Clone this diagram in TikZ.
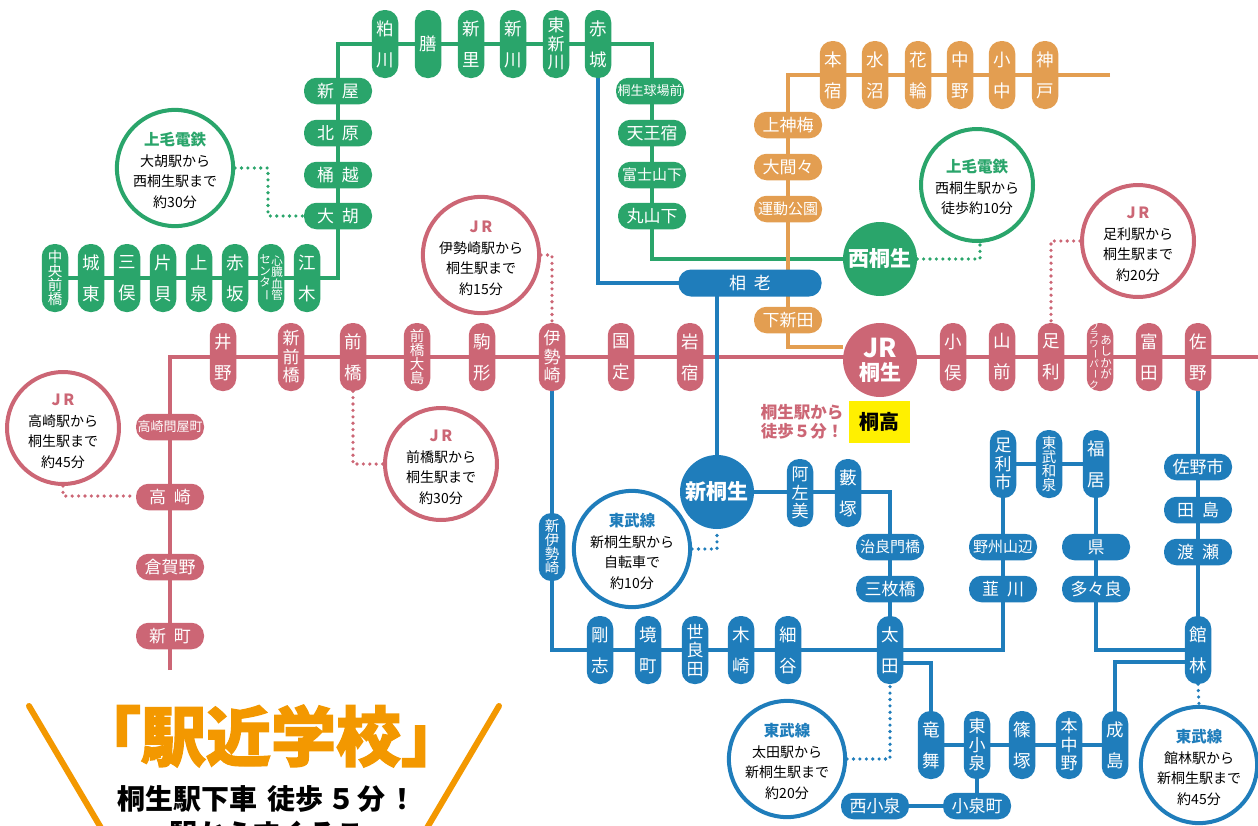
\documentclass[tikz,border=0pt]{standalone}
\usepackage{fontspec}
\usepackage{graphicx}
\usetikzlibrary{backgrounds}
\setmainfont{Noto Sans CJK JP}
\definecolor{jrred}{HTML}{CC6675}
\definecolor{jogreen}{HTML}{2AA56B}
\definecolor{tobublue}{HTML}{1F7DBB}
\definecolor{wtorange}{HTML}{E39E51}
\definecolor{ekiorange}{HTML}{F39800}
\definecolor{kiryuyellow}{HTML}{FFF000}
\tikzset{
  rail/.style={line width=4pt},
  pill/.style={fill=#1,text=white,inner sep=0pt,rounded corners=12.5pt,align=center},
  hst/.style={pill=#1,minimum width=68pt,minimum height=26.5pt,font=\fontsize{17}{18}\selectfont},
  hstq/.style={hst=#1,font=\fontsize{15}{18}\selectfont},
  hstp/.style={hst=#1,font=\fontsize{13}{18}\selectfont},
  vst/.style={pill=#1,minimum width=26.5pt,minimum height=68pt,font=\fontsize{17.5}{31}\selectfont},
  vstc/.style={vst=#1,font=\fontsize{17}{18.5}\selectfont},
  vstd/.style={vst=#1,font=\fontsize{14.5}{14}\selectfont},
  col/.style={text=white,inner sep=0pt,align=center,font=\fontsize{#1}{#1}\selectfont},
  hub/.style={circle,fill=#1,text=white,minimum size=74pt,inner sep=0pt,align=center,font=\bfseries\fontsize{21}{24}\selectfont},
  info/.style={circle,draw=#1,line width=4pt,fill=white,minimum size=112pt,inner sep=0pt,align=center,font=\fontsize{14}{20.5}\selectfont},
  walk/.style={line width=3.6pt,dash pattern=on 0pt off 6.4pt,line cap=round},
}
\newcommand{\infohead}[2]{{\bfseries\fontsize{15.5}{22}\selectfont\textcolor{#1}{\rule{0pt}{18pt}#2}}}
\newcommand{\gp}{\hspace{8pt}}
\newcommand{\tatebo}{\rotatebox[origin=c]{-90}{ー}}
\begin{document}
\begin{tikzpicture}[x=1pt,y=-1pt]
  \useasboundingbox (0,0) rectangle (1258,825);
  % where the lines turn
  \coordinate (gtl) at (338,44);
  \coordinate (gbl) at (338,278);
  \coordinate (gtr) at (652,44);
  \coordinate (gbr) at (652,259);
  \coordinate (akb) at (598,283);
  \coordinate (otl) at (788,75);
  \coordinate (otr) at (1110,75);
  \coordinate (obl) at (788,347);
  \coordinate (rwl) at (170,357);
  \coordinate (rwr) at (1258,357);
  \coordinate (rbt) at (170,670);
  \coordinate (bsh) at (717,283);
  \coordinate (bsy) at (890,492);
  \coordinate (bis) at (552,650);
  \coordinate (bsr) at (1003,650);
  \coordinate (bfk) at (1096,650);
  \coordinate (btd) at (890,663);
  \coordinate (btr) at (931,663);
  \coordinate (btk) at (1115,662);
  \coordinate (btl) at (1198,662);

  % joumo line
  \foreach \nm/\px/\lab in {kasu/385/粕\\川,sato/471/新\\里,skaw/513/新\\川,akag/598/赤\\城}
    \node[vst=jogreen] (\nm) at (\px,44) {\lab};
  \node[vst=jogreen] (zen) at (428,44) {膳};
  \node[vstc=jogreen] (higa) at (556,44) {東\\新\\川};
  \foreach \nm/\py/\lab in {nya/91/新\gp 屋,kit/133/北\gp 原,oke/175/桶\gp 越,ogo/216/大\gp 胡}
    \node[hst=jogreen] (\nm) at (338,\py) {\lab};
  \node[hstp=jogreen] (kyu) at (650,91) {桐生球場前};
  \node[hst=jogreen] (ten) at (652,133) {天王宿};
  \node[hstq=jogreen] (fuj) at (652,175) {富士山下};
  \node[hst=jogreen] (mar) at (652,216) {丸山下};
  \foreach \nm/\px/\lab in {jot/91/城\\東,mit/127/三\\俣,kat/163/片\\貝,kam/199/上\\泉,aks/235/赤\\坂,eno/307/江\\木}
    \node[vst=jogreen] (\nm) at (\px,278) {\lab};
  \node[vstd=jogreen] (chu) at (55,278) {中\\央\\前\\橋};
  \node[vst=jogreen] (shz) at (271,278) {};
  \node[col=11.5] (shza) at (277,278) {心\\臓\\血\\管};
  \node[col=11.5] (shzb) at (265,278) {セ\\ン\\タ\\\tatebo};
  \node[hub=jogreen] (nkr) at (880,259) {西桐生};

  % watarase line
  \foreach \nm/\px/\lab in {hon/833/本\\宿,miz/875/水\\沼,han/918/花\\輪,nak/960/中\\野,kon/1002/小\\中,kob/1045/神\\戸}
    \node[vst=wtorange] (\nm) at (\px,75) {\lab};
  \node[hst=wtorange] (kmk) at (788,125) {上神梅};
  \node[hst=wtorange] (omm) at (788,167) {大間々};
  \node[hstq=wtorange] (und) at (788,209) {運動公園};
  \node[hst=wtorange] (shm) at (788,320) {下新田};

  % ryomo line
  \foreach \nm/\px/\lab in {ino/223/井\\野,mae/353/前\\橋,kom/482/駒\\形,kun/621/国\\定,iwa/690/岩\\宿,oma/953/小\\俣,yam/1002/山\\前,ash/1051/足\\利,tom/1149/富\\田,san/1198/佐\\野}
    \node[vst=jrred] (\nm) at (\px,357) {\lab};
  \node[vstc=jrred] (smb) at (291,357) {新\\前\\橋};
  \node[vstd=jrred] (moj) at (417,357) {前\\橋\\大\\島};
  \node[vstc=jrred] (ise) at (552,357) {伊\\勢\\崎};
  \node[vst=jrred] (flw) at (1100,357) {};
  \node[col=11.5] (flwa) at (1106,357) {あ\\し\\か\\が};
  \node[col=9.5,font=\fontsize{9.5}{8.8}\selectfont] (flwb) at (1094,356) {フ\\ラ\\ワ\\\tatebo\\パ\\\tatebo\\ク};
  \node[hstp=jrred] (ton) at (170,427) {高崎問屋町};
  \node[hst=jrred] (tak) at (170,497) {高\gp 崎};
  \node[hst=jrred] (kur) at (170,567) {倉賀野};
  \node[hst=jrred] (shn) at (170,636) {新\gp 町};
  \node[hub=jrred,font=\bfseries\fontsize{21}{23}\selectfont] (jrk) at (880,360) {{\fontsize{26}{26}\selectfont JR}\\桐生};

  % tobu line
  \node[hst=tobublue,minimum width=143pt,minimum height=27pt] (aio) at (750,283) {相\gp 老};
  \node[hub=tobublue] (skr) at (717,492) {新桐生};
  \node[vstc=tobublue] (aza) at (800,493) {阿\\左\\美};
  \node[vst=tobublue] (yab) at (848,493) {藪\\塚};
  \node[hstq=tobublue] (jir) at (890,547) {治良門橋};
  \node[hst=tobublue] (smi) at (890,589) {三枚橋};
  \node[vst=tobublue] (ota) at (890,650) {太\\田};
  \node[vstd=tobublue] (sis) at (552,547) {新\\伊\\勢\\崎};
  \node[vst=tobublue] (gou) at (600,650) {剛\\志};
  \node[vst=tobublue] (sak) at (648,650) {境\\町};
  \node[vstc=tobublue] (ser) at (695,650) {世\\良\\田};
  \node[vst=tobublue] (kiz) at (741,650) {木\\崎};
  \node[vst=tobublue] (hos) at (788,650) {細\\谷};
  \node[vstc=tobublue] (asi) at (1003,464) {足\\利\\市};
  \node[vstd=tobublue] (izu) at (1049,464) {東\\武\\和\\泉};
  \node[vst=tobublue] (fuk) at (1096,464) {福\\居};
  \node[hstq=tobublue] (yas) at (1003,547) {野州山辺};
  \node[hst=tobublue] (nir) at (1003,589) {韮\gp 川};
  \node[hst=tobublue] (ken) at (1096,547) {県};
  \node[hst=tobublue] (tad) at (1096,589) {多々良};
  \node[hst=tobublue] (sno) at (1198,467) {佐野市};
  \node[hst=tobublue] (taj) at (1198,510) {田\gp 島};
  \node[hst=tobublue] (wat) at (1198,552) {渡\gp 瀬};
  \node[vst=tobublue] (tat) at (1198,650) {館\\林};
  \node[vst=tobublue] (ryu) at (931,745) {竜\\舞};
  \node[vstc=tobublue] (kzm) at (977,745) {東\\小\\泉};
  \node[vst=tobublue] (shi) at (1022,745) {篠\\塚};
  \node[vstc=tobublue] (mnk) at (1069,745) {本\\中\\野};
  \node[vst=tobublue] (nar) at (1115,745) {成\\島};
  \node[hst=tobublue] (kzt) at (977,806) {小泉町};
  \node[hst=tobublue] (nsk) at (875,806) {西小泉};

  % rails under the stations
  \begin{scope}[on background layer]
    \draw[rail,jogreen] (chu.center) -- (gbl) -- (gtl) -- (gtr) -- (gbr) -- (nkr.center);
    \draw[rail,tobublue] (akag.center) -- (akb) -- (aio.center);
    \draw[rail,wtorange] (otr) -- (otl) -- (obl) -- (jrk.west |- obl);
    \draw[rail,jrred] (rbt) -- (rwl) -- (rwr);
    \draw[rail,tobublue] (bsh) -- (skr.center);
    \draw[rail,tobublue] (skr.center) -- (bsy) -- (ota.center);
    \draw[rail,tobublue] (ise.center) -- (bis) -- (bsr) -- (asi.center) -- (fuk.center) -- (bfk) -- (tat.center);
    \draw[rail,tobublue] (san.center) -- (tat.center);
    \draw[rail,tobublue] (btd) -- (btr) -- (ryu.center) -- (nar.center) -- (btk) -- (btl);
    \draw[rail,tobublue] (kzm.center) -- (kzt.center) -- (nsk.center);
  \end{scope}

  % walking and cycling notes
  \node[info=jogreen] (ogoi) at (175,168) {\infohead{jogreen}{上毛電鉄}\\大胡駅から\\西桐生駅まで\\約30分};
  \node[info=jogreen] (nkri) at (977,185) {\infohead{jogreen}{上毛電鉄}\\西桐生駅から\\徒歩約10分};
  \node[info=jrred] (ashi) at (1138,241) {\infohead{jrred}{J\,R}\\足利駅から\\桐生駅まで\\約20分};
  \node[info=jrred] (isei) at (481,255) {\infohead{jrred}{J\,R}\\伊勢崎駅から\\桐生駅まで\\約15分};
  \node[info=jrred] (taki) at (63,428) {\infohead{jrred}{J\,R}\\高崎駅から\\桐生駅まで\\約45分};
  \node[info=jrred] (maei) at (441,464) {\infohead{jrred}{J\,R}\\前橋駅から\\桐生駅まで\\約30分};
  \node[info=tobublue] (skri) at (632,549) {\infohead{tobublue}{東武線}\\新桐生駅から\\自転車で\\約10分};
  \node[info=tobublue] (otai) at (787,759) {\infohead{tobublue}{東武線}\\太田駅から\\新桐生駅まで\\約20分};
  \node[info=tobublue] (tati) at (1199,765) {\infohead{tobublue}{東武線}\\館林駅から\\新桐生駅まで\\約45分};

  \coordinate (dogo) at (268,168);
  \draw[walk,jogreen] (ogoi.east) -- (dogo) -- (268,216) -- (ogo.west);
  \coordinate (dnkr) at (980,259);
  \draw[walk,jogreen] (nkr.east) -- (dnkr) -- (nkri.south -| dnkr);
  \coordinate (dash) at (1051,241);
  \draw[walk,jrred] (ashi.west) -- (dash) -- (ash.north);
  \coordinate (dise) at (552,255);
  \draw[walk,jrred] (isei.east) -- (dise) -- (ise.north);
  \coordinate (dtak) at (63,496);
  \draw[walk,jrred] (taki.south) -- (dtak) -- (tak.west |- dtak);
  \coordinate (dmae) at (353,464);
  \draw[walk,jrred] (mae.south) -- (dmae) -- (maei.west);
  \coordinate (dskr) at (717,549);
  \draw[walk,tobublue] (skri.east) -- (dskr) -- (skr.south);
  \coordinate (dota) at (890,759);
  \draw[walk,tobublue] (otai.east) -- (dota) -- (ota.south);
  \draw[walk,tobublue] (tat.south) -- (tati.north);

  % kiryu high school
  \node[text=jrred,inner sep=0pt,align=center,font=\bfseries\fontsize{16.5}{18.5}\selectfont] (toho) at (802,422) {桐生駅から\\徒歩５分！};
  \node[fill=kiryuyellow,text=black,minimum width=61pt,minimum height=42pt,inner sep=0pt,font=\bfseries\fontsize{20}{22}\selectfont] (kko) at (879.5,422) {桐高};

  % banner, cut by the edge of the page
  \coordinate (val) at (29,706);
  \coordinate (vab) at (107,838);
  \coordinate (var) at (499,706);
  \coordinate (vbr) at (421,838);
  \draw[ekiorange,line width=6pt,line cap=round] (val) -- (vab);
  \draw[ekiorange,line width=6pt,line cap=round] (var) -- (vbr);
  \node[text=ekiorange,inner sep=0pt,font=\bfseries\fontsize{65}{66}\selectfont\addfontfeature{FakeBold=2}] (eki) at (271,736) {「駅近学校」};
  \node[inner sep=0pt,font=\bfseries\fontsize{28}{30}\selectfont] (geko) at (267,799) {桐生駅下車\hspace{11pt}徒歩\hspace{3pt}５\hspace{3pt}分\hspace{3pt}！};
  \node[inner sep=0pt,font=\bfseries\fontsize{28}{30}\selectfont] (sugu) at (267,834) {駅からすぐそこ};
\end{tikzpicture}
\end{document}
